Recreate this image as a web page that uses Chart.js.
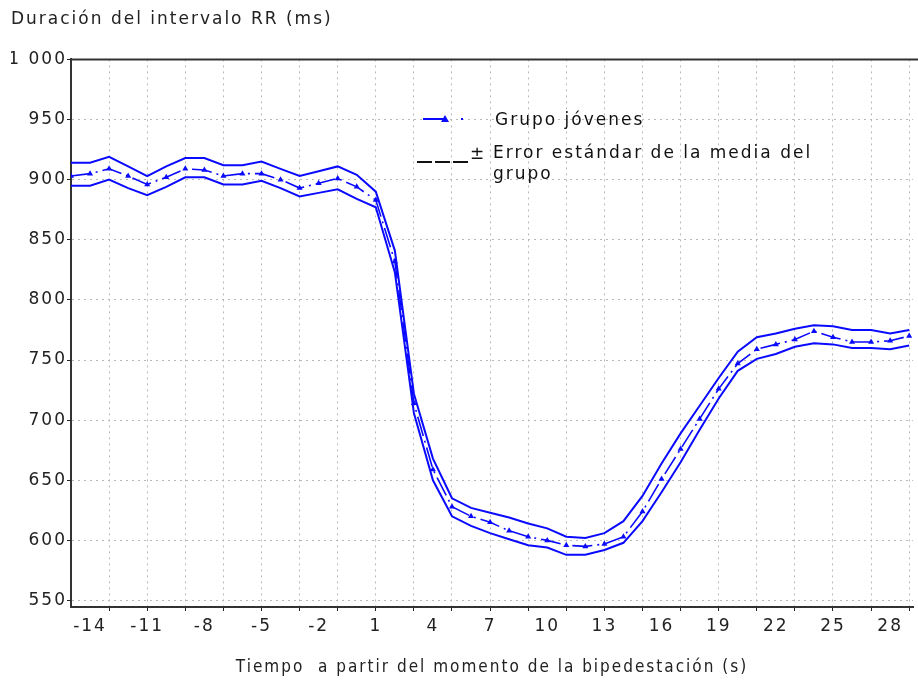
<!DOCTYPE html>
<html>
<head>
<meta charset="utf-8">
<script src="https://cdn.jsdelivr.net/npm/chart.js@4.4.1/dist/chart.umd.min.js"></script>
<style>
  html, body { margin: 0; padding: 0; background: #ffffff; }
  #wrap { width: 918px; height: 681px; }
</style>
</head>
<body>
<div id="wrap"><canvas id="c" width="918" height="681"></canvas></div>
<script>
// ---- data ----
const seconds = [-15,-14,-13,-12,-11,-10,-9,-8,-7,-6,-5,-4,-3,-2,-1,0,1,2,3,4,5,6,7,8,9,10,11,12,13,14,15,16,17,18,19,20,21,22,23,24,25,26,27,28,29];
const meanRR  = [903,905,909,903,896,902,909,908,903,905,905,900,893,897,901,894,883,832,714,659,628,620,615,608,603,600,596,595,597,603,624,651,676,701,726,747,759,763,767,774,769,765,765,766,770];
const upperSE = [914,914,919,911,903,911,918,918,912,912,915,909,903,907,911,904,890,841,722,668,635,627,623,619,614,610,603,602,606,616,637,664,689,712,735,757,769,772,776,779,778,775,775,772,775];
const lowerSE = [895,895,900,893,887,894,902,902,896,896,899,893,886,889,892,884,877,823,706,650,620,612,606,601,596,594,588,588,592,598,616,640,665,692,718,741,751,755,761,764,763,760,760,759,762];

const xTickLabels = [-14,-11,-8,-5,-2,1,4,7,10,13,16,19,22,25,28];
const yTickValues = [550,600,650,700,750,800,850,900,950,1000];
const yTickLabels = ['550','600','650','700','750','800','850','900','950','1 000'];

const yTitle = 'Duración del intervalo RR (ms)';
const xTitle = 'Tiempo  a partir del momento de la bipedestación (s)';
const legendMean = 'Grupo jóvenes';
const legendSE = ['Error estándar de la media del', 'grupo'];

const BLUE = '#0a0aff';
const FONT = 'DejaVu Sans';

const toXY = (vals) => seconds.map((s, i) => ({ x: s, y: vals[i] }));

const spacing = {
  id: 'spacing',
  beforeUpdate(chart) { chart.ctx.letterSpacing = '2px'; },
  beforeLayout(chart) { chart.ctx.letterSpacing = '2px'; },
  beforeDraw(chart) { chart.ctx.letterSpacing = '2px'; }
};

const frame = {
  id: 'frame',
  afterDraw(chart) {
    const { ctx, chartArea: a } = chart;
    ctx.save();
    ctx.strokeStyle = '#333';
    ctx.lineWidth = 2;
    ctx.beginPath();
    ctx.moveTo(a.left - 1, a.top);
    ctx.lineTo(a.right + 5, a.top);
    ctx.stroke();
    ctx.restore();
  }
};

const legendBox = {
  id: 'legendBox',
  afterDraw(chart) {
    const { ctx } = chart;
    ctx.save();
    ctx.letterSpacing = '2px';
    // mean series symbol
    ctx.strokeStyle = BLUE;
    ctx.fillStyle = BLUE;
    ctx.lineWidth = 2;
    ctx.beginPath(); ctx.moveTo(423, 119); ctx.lineTo(445, 119); ctx.stroke();
    ctx.beginPath(); ctx.moveTo(445, 115); ctx.lineTo(449, 122); ctx.lineTo(441, 122); ctx.closePath(); ctx.fill();
    ctx.fillRect(461, 118, 2, 2);
    // SE symbol
    ctx.strokeStyle = '#111';
    ctx.lineWidth = 2;
    [[417, 432], [435, 450], [453, 468]].forEach(([a, b]) => {
      ctx.beginPath(); ctx.moveTo(a, 162); ctx.lineTo(b, 162); ctx.stroke();
    });
    ctx.fillStyle = '#111';
    ctx.font = '17px "' + FONT + '"';
    ctx.textBaseline = 'middle';
    ctx.fillText('±', 470, 155);
    ctx.fillText(legendMean, 495, 121);
    ctx.fillText(legendSE[0], 493, 154);
    ctx.fillText(legendSE[1], 493, 175);
    ctx.restore();
  }
};

new Chart(document.getElementById('c'), {
  type: 'line',
  data: {
    datasets: [
      {
        label: 'SE+',
        data: toXY(upperSE),
        borderColor: BLUE, borderWidth: 2, pointRadius: 0, tension: 0, fill: false
      },
      {
        label: 'SE-',
        data: toXY(lowerSE),
        borderColor: BLUE, borderWidth: 2, pointRadius: 0, tension: 0, fill: false
      },
      {
        label: legendMean,
        data: toXY(meanRR),
        borderColor: BLUE, borderWidth: 1.6, borderDash: [20, 5, 2, 5],
        pointStyle: 'triangle', pointRadius: 3.5, pointBackgroundColor: BLUE, pointBorderColor: BLUE, pointBorderWidth: 0,
        tension: 0, fill: false
      }
    ]
  },
  options: {
    responsive: false,
    animation: false,
    devicePixelRatio: 1,
    layout: { padding: { left: 11, right: 5, top: 0, bottom: 0 } },
    plugins: {
      legend: { display: false },
      tooltip: { enabled: false },
      title: {
        display: true, text: yTitle, align: 'start', color: '#222',
        font: { family: FONT, size: 17, weight: 'normal' },
        padding: { top: 9, bottom: 30 }
      }
    },
    scales: {
      x: {
        type: 'linear', min: -15, max: 29.2,
        afterBuildTicks(scale) { scale.ticks = seconds.map(v => ({ value: v })); },
        afterFit(scale) { scale.height = 74; },
        border: { display: true, color: '#333', width: 2, dash: [2, 4] },
        grid: {
          color: (c) => (c.tick && Math.abs(c.tick.value % 2) === 1 && c.tick.value > -15) ? '#b8b8b8' : 'rgba(0,0,0,0)',
          tickColor: (c) => (c.tick && Math.abs(c.tick.value % 2) === 1 && c.tick.value > -15) ? '#222' : 'rgba(0,0,0,0)',
          tickLength: 4, lineWidth: 1
        },
        ticks: {
          autoSkip: false, maxRotation: 0, padding: 5, color: '#222',
          font: { family: FONT, size: 17 },
          callback: (v) => xTickLabels.includes(v) ? String(v) : ''
        },
        title: {
          display: true, text: xTitle, color: '#222',
          font: { family: 'DejaVu Sans Condensed', size: 17 },
          padding: { top: 0, bottom: 3 }
        }
      },
      y: {
        type: 'linear', min: 544.6, max: 1000,
        afterBuildTicks(scale) { scale.ticks = yTickValues.map(v => ({ value: v })); },
        afterFit(scale) { scale.width = 60; },
        border: { display: true, color: '#333', width: 2, dash: [2, 4] },
        grid: { color: '#b8b8b8', tickColor: '#222', tickLength: 4, lineWidth: 1 },
        ticks: {
          padding: 0, color: '#222',
          font: { family: FONT, size: 17 },
          callback: (v) => { const i = yTickValues.indexOf(v); return i >= 0 ? yTickLabels[i] : ''; }
        }
      }
    }
  },
  plugins: [spacing, frame, legendBox]
});
</script>
</body>
</html>
